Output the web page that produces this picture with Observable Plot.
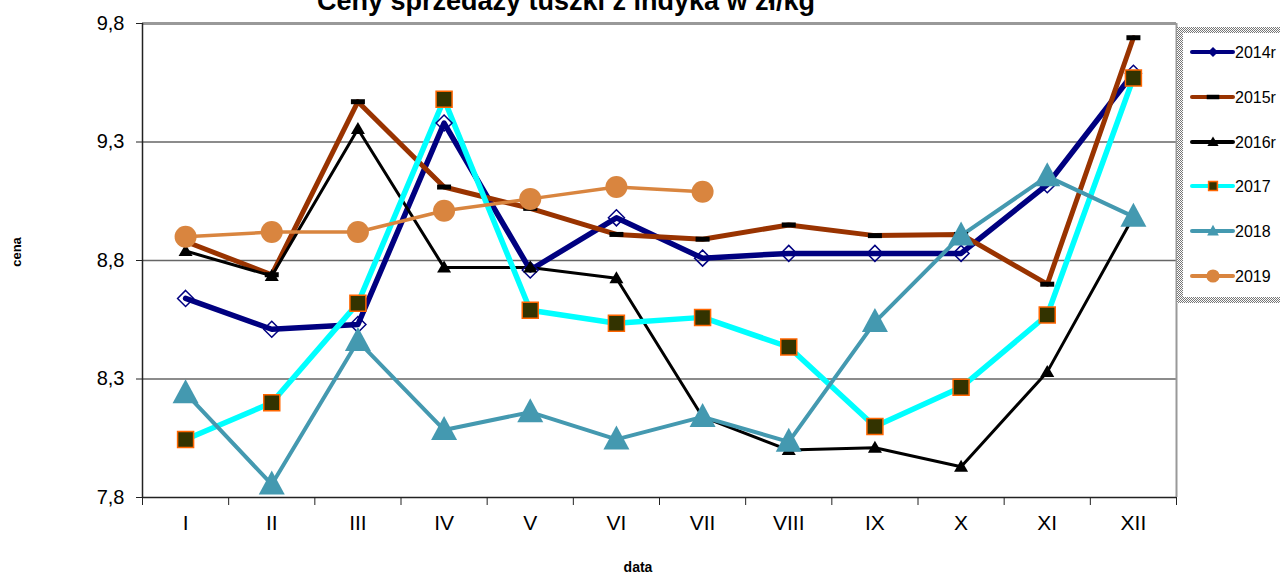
<!DOCTYPE html>
<html><head><meta charset="utf-8">
<script src="https://cdn.jsdelivr.net/npm/d3@7"></script>
<script src="https://cdn.jsdelivr.net/npm/@observablehq/plot@0.6"></script>
<style>
body{margin:0;background:#fff;font-family:"Liberation Sans",Arial,sans-serif}
#wrap{position:relative;width:1280px;height:574px;overflow:hidden}
#title{position:absolute;left:566px;top:-12px;line-height:1;transform:translateX(-50%);font-weight:bold;font-size:27px;white-space:nowrap;color:#000}
#ylab{position:absolute;left:16px;top:252px;transform:translate(-50%,-50%) rotate(-90deg);font-weight:bold;font-size:13px}
#xlab{position:absolute;left:638px;top:559px;transform:translateX(-50%);font-weight:bold;font-size:14px}
#chart{position:absolute;left:0;top:0}
#legend{position:absolute;left:1176px;top:26px}
</style></head>
<body><div id="wrap">
<div id="chart"></div>
<div id="title">Ceny sprzedaży tuszki z indyka w zł/kg</div>
<div id="ylab">cena</div>
<div id="xlab">data</div>
<div id="legend"></div>
</div>
<script>
const months = ["I","II","III","IV","V","VI","VII","VIII","IX","X","XI","XII"];
const seriesNames = ["2014r","2015r","2016r","2017","2018","2019"];
const yTicks = [7.8, 8.3, 8.8, 9.3, 9.8];
const v2014 = [8.64, 8.51, 8.53, 9.38, 8.76, 8.98, 8.81, 8.83, 8.83, 8.83, 9.12, 9.59];
const v2015 = [8.88, 8.74, 9.47, 9.11, 9.02, 8.91, 8.89, 8.95, 8.905, 8.91, 8.70, 9.74];
const v2016 = [8.84, 8.735, 9.355, 8.77, 8.77, 8.725, 8.14, 8.00, 8.01, 7.93, 8.33, 8.985];
const v2017 = [8.045, 8.20, 8.62, 9.48, 8.59, 8.535, 8.56, 8.435, 8.10, 8.265, 8.57, 9.57];
const v2018 = [8.24, 7.855, 8.46, 8.085, 8.16, 8.045, 8.14, 8.035, 8.54, 8.905, 9.155, 8.985];
const v2019 = [8.90, 8.92, 8.92, 9.01, 9.06, 9.11, 9.09];

const values = [v2014, v2015, v2016, v2017, v2018, v2019];
const rows = [];
values.forEach((arr, k) => arr.forEach((v, i) => rows.push({s: seriesNames[k], i, v})));

const diamond = {draw(c){c.moveTo(0,-8);c.lineTo(8,0);c.lineTo(0,8);c.lineTo(-8,0);c.closePath();}};
const dash = {draw(c){c.moveTo(-7,-2.5);c.lineTo(7,-2.5);c.lineTo(7,2.5);c.lineTo(-7,2.5);c.closePath();}};
const triS = {draw(c){c.moveTo(0,-7);c.lineTo(7,5);c.lineTo(-7,5);c.closePath();}};
const square = {draw(c){c.moveTo(-8,-8);c.lineTo(8,-8);c.lineTo(8,8);c.lineTo(-8,8);c.closePath();}};
const triL = {draw(c){c.moveTo(0,-14);c.lineTo(13,10);c.lineTo(-13,10);c.closePath();}};
const circ = {draw(c){c.moveTo(11,0);c.arc(0,0,11,0,2*Math.PI);c.closePath();}};

const styles = [
  {s:"2014r", stroke:"#000080", w:5.5, sym:diamond, fill:"none", ms:"#000080", msw:1.5, lfill:"#000080", lsc:0.5},
  {s:"2015r", stroke:"#993300", w:5, sym:dash, fill:"#000", ms:"none", msw:0, lfill:"#000", lsc:0.9},
  {s:"2016r", stroke:"#000000", w:3, sym:triS, fill:"#000", ms:"none", msw:0, lfill:"#000", lsc:0.8},
  {s:"2017", stroke:"#00FFFF", w:5.5, sym:square, fill:"#333300", ms:"#FF6600", msw:1.5, lfill:"#333300", lsc:0.55},
  {s:"2018", stroke:"#4499B0", w:4, sym:triL, fill:"#4499B0", ms:"none", msw:0, lfill:"#4499B0", lsc:0.45},
  {s:"2019", stroke:"#D9853F", w:3.5, sym:circ, fill:"#D9853F", ms:"none", msw:0, lfill:"#D9853F", lsc:0.6}
];

const marks = [
  Plot.ruleY([8.3, 8.8, 9.3], {stroke:"#666", strokeWidth:1.5}),
  Plot.ruleY([9.8], {stroke:"#999", strokeWidth:3}),
  Plot.ruleX([11.5], {stroke:"#999", strokeWidth:2}),
  Plot.ruleX([-0.5], {stroke:"#222", strokeWidth:1.5}),
  Plot.ruleY([7.8], {stroke:"#222", strokeWidth:1.5}),
  Plot.axisY({ticks: yTicks, tickSize:6, tickPadding:12, fontSize:20, tickFormat: d => d3.format(".1f")(d).replace(".", ","), label:null, stroke:"#222"}),
  Plot.axisX({ticks: d3.range(-0.5, 12, 1), tickSize:8, tickFormat: () => "", label:null, stroke:"#222"}),
  Plot.axisX({ticks: d3.range(12), tickSize:0, tickPadding:18, fontSize:21, tickFormat: i => months[i], label:null})
];
for (const st of styles) {
  marks.push(Plot.line(rows, {filter: d => d.s === st.s, x:"i", y:"v", stroke: st.stroke, strokeWidth: st.w, strokeLinejoin:"round", strokeLinecap:"round"}));
}
for (const st of styles) {
  marks.push(Plot.dot(rows, {filter: d => d.s === st.s, x:"i", y:"v", symbol: st.sym, r:5, fill: st.fill, stroke: st.ms, strokeWidth: st.msw}));
}

const chart = Plot.plot({
  width:1280, height:574,
  marginLeft:142, marginRight:104, marginTop:23, marginBottom:77,
  style:{fontFamily:"'Liberation Sans', Arial, sans-serif", color:"#000", background:"transparent"},
  x:{domain:[-0.5, 11.5], axis:null},
  y:{domain:[7.8, 9.8], axis:null},
  marks
});
document.getElementById("chart").appendChild(chart);

// legend
const lg = d3.select("#legend").append("svg").attr("width", 104).attr("height", 278);
const pat = lg.append("defs").append("pattern").attr("id", "chk").attr("width", 2).attr("height", 2).attr("patternUnits", "userSpaceOnUse");
pat.append("rect").attr("width", 2).attr("height", 2).attr("fill", "#fff");
pat.append("rect").attr("width", 1).attr("height", 1).attr("fill", "#777");
pat.append("rect").attr("x", 1).attr("y", 1).attr("width", 1).attr("height", 1).attr("fill", "#777");
lg.append("rect").attr("x", 1).attr("y", 1).attr("width", 103).attr("height", 276).attr("fill", "url(#chk)");
lg.append("rect").attr("x", 7).attr("y", 7).attr("width", 97).attr("height", 264).attr("fill", "#fff");
const ly = [26, 71, 116, 160, 205, 250];
styles.forEach((st, k) => {
  const g = lg.append("g").attr("transform", `translate(0,${ly[k]})`);
  g.append("line").attr("x1", 16).attr("x2", 57).attr("stroke", st.stroke).attr("stroke-width", 4).attr("stroke-linecap", "round");
  const sc = st.lsc;
  g.append("path").attr("transform", `translate(37,0) scale(${sc})`).attr("d", d3.symbol(st.sym)())
    .attr("fill", st.lfill).attr("stroke", st.ms).attr("stroke-width", st.msw ? st.msw/sc : 0);
  g.append("text").attr("x", 59).attr("y", 0).attr("dy", "0.35em").attr("font-size", 16)
    .attr("font-family", "'Liberation Sans', Arial, sans-serif").text(st.s);
});
</script>
</body></html>
